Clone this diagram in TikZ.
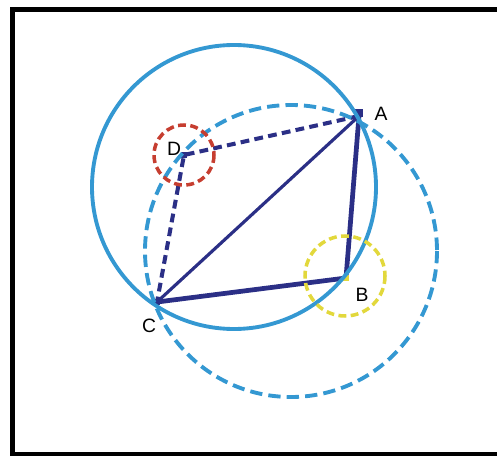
\documentclass[tikz,border=0pt]{standalone}
\usepackage{fontspec}
\setmainfont{Liberation Sans}
\usetikzlibrary{positioning,calc}
\definecolor{cNavy}{HTML}{2B2F86}
\definecolor{cSky} {HTML}{3498D2}
\definecolor{cRed} {HTML}{C63E30}
\definecolor{cYell}{HTML}{E2D83C}

\begin{document}
\begin{tikzpicture}[x=0.02cm,y=-0.02cm,font=\fontsize{11}{13}\selectfont,
    side/.style={cNavy,line width=2.7pt,line join=miter},
    sideDash/.style={cNavy,line width=2.3pt,dash pattern=on 5pt off 3pt},
    circSolid/.style={cSky,line width=2.2pt},
    circDash/.style={cSky,line width=2.2pt,dash pattern=on 7pt off 3.5pt},
    ring/.style={line width=2pt,dash pattern=on 4.5pt off 2.5pt},
    vert/.style={fill=cNavy,inner sep=0pt,minimum size=4.2pt}]
        \useasboundingbox (0,0) rectangle (497,456);
        % frame
        \draw[line width=2.4pt] (497,9.5) -- (12.5,9.5) -- (12.5,454) -- (497,454);
        \coordinate (A) at (359,116);
        \coordinate (B) at (346,278);
        \coordinate (C) at (157,302);
        \coordinate (D) at (184,155);
        % quadrilateral
        \draw[side] (C) -- (B) -- (A);
        \draw[side,line width=1.8pt] (A) -- (C);
        \draw[sideDash] (A) -- (D) -- (C);
        \node[vert] (mA) at ($(A)+(0,-3)$) {};
        \node[vert,minimum size=3.4pt] (mD) at (D) {};
        \node[vert,minimum size=3.4pt] (mC) at (C) {};
        \node[fill=cYell,inner sep=0pt,minimum size=3.6pt] (mB) at (B) {};
        % circles
        \draw[circSolid] (234,187) circle[radius=142];
        \draw[circDash] (291,251) circle[radius=146];
        \draw[ring,cRed] (D) circle[radius=30];
        \draw[ring,cYell] (345,276) circle[radius=40];
        % labels
        \node (lA) at (381,114) {A};
        \node (lB) at (362,295) {B};
        \node (lC) at (149,326) {C};
        \node (lD) at (174,149) {D};
\end{tikzpicture}
\end{document}
